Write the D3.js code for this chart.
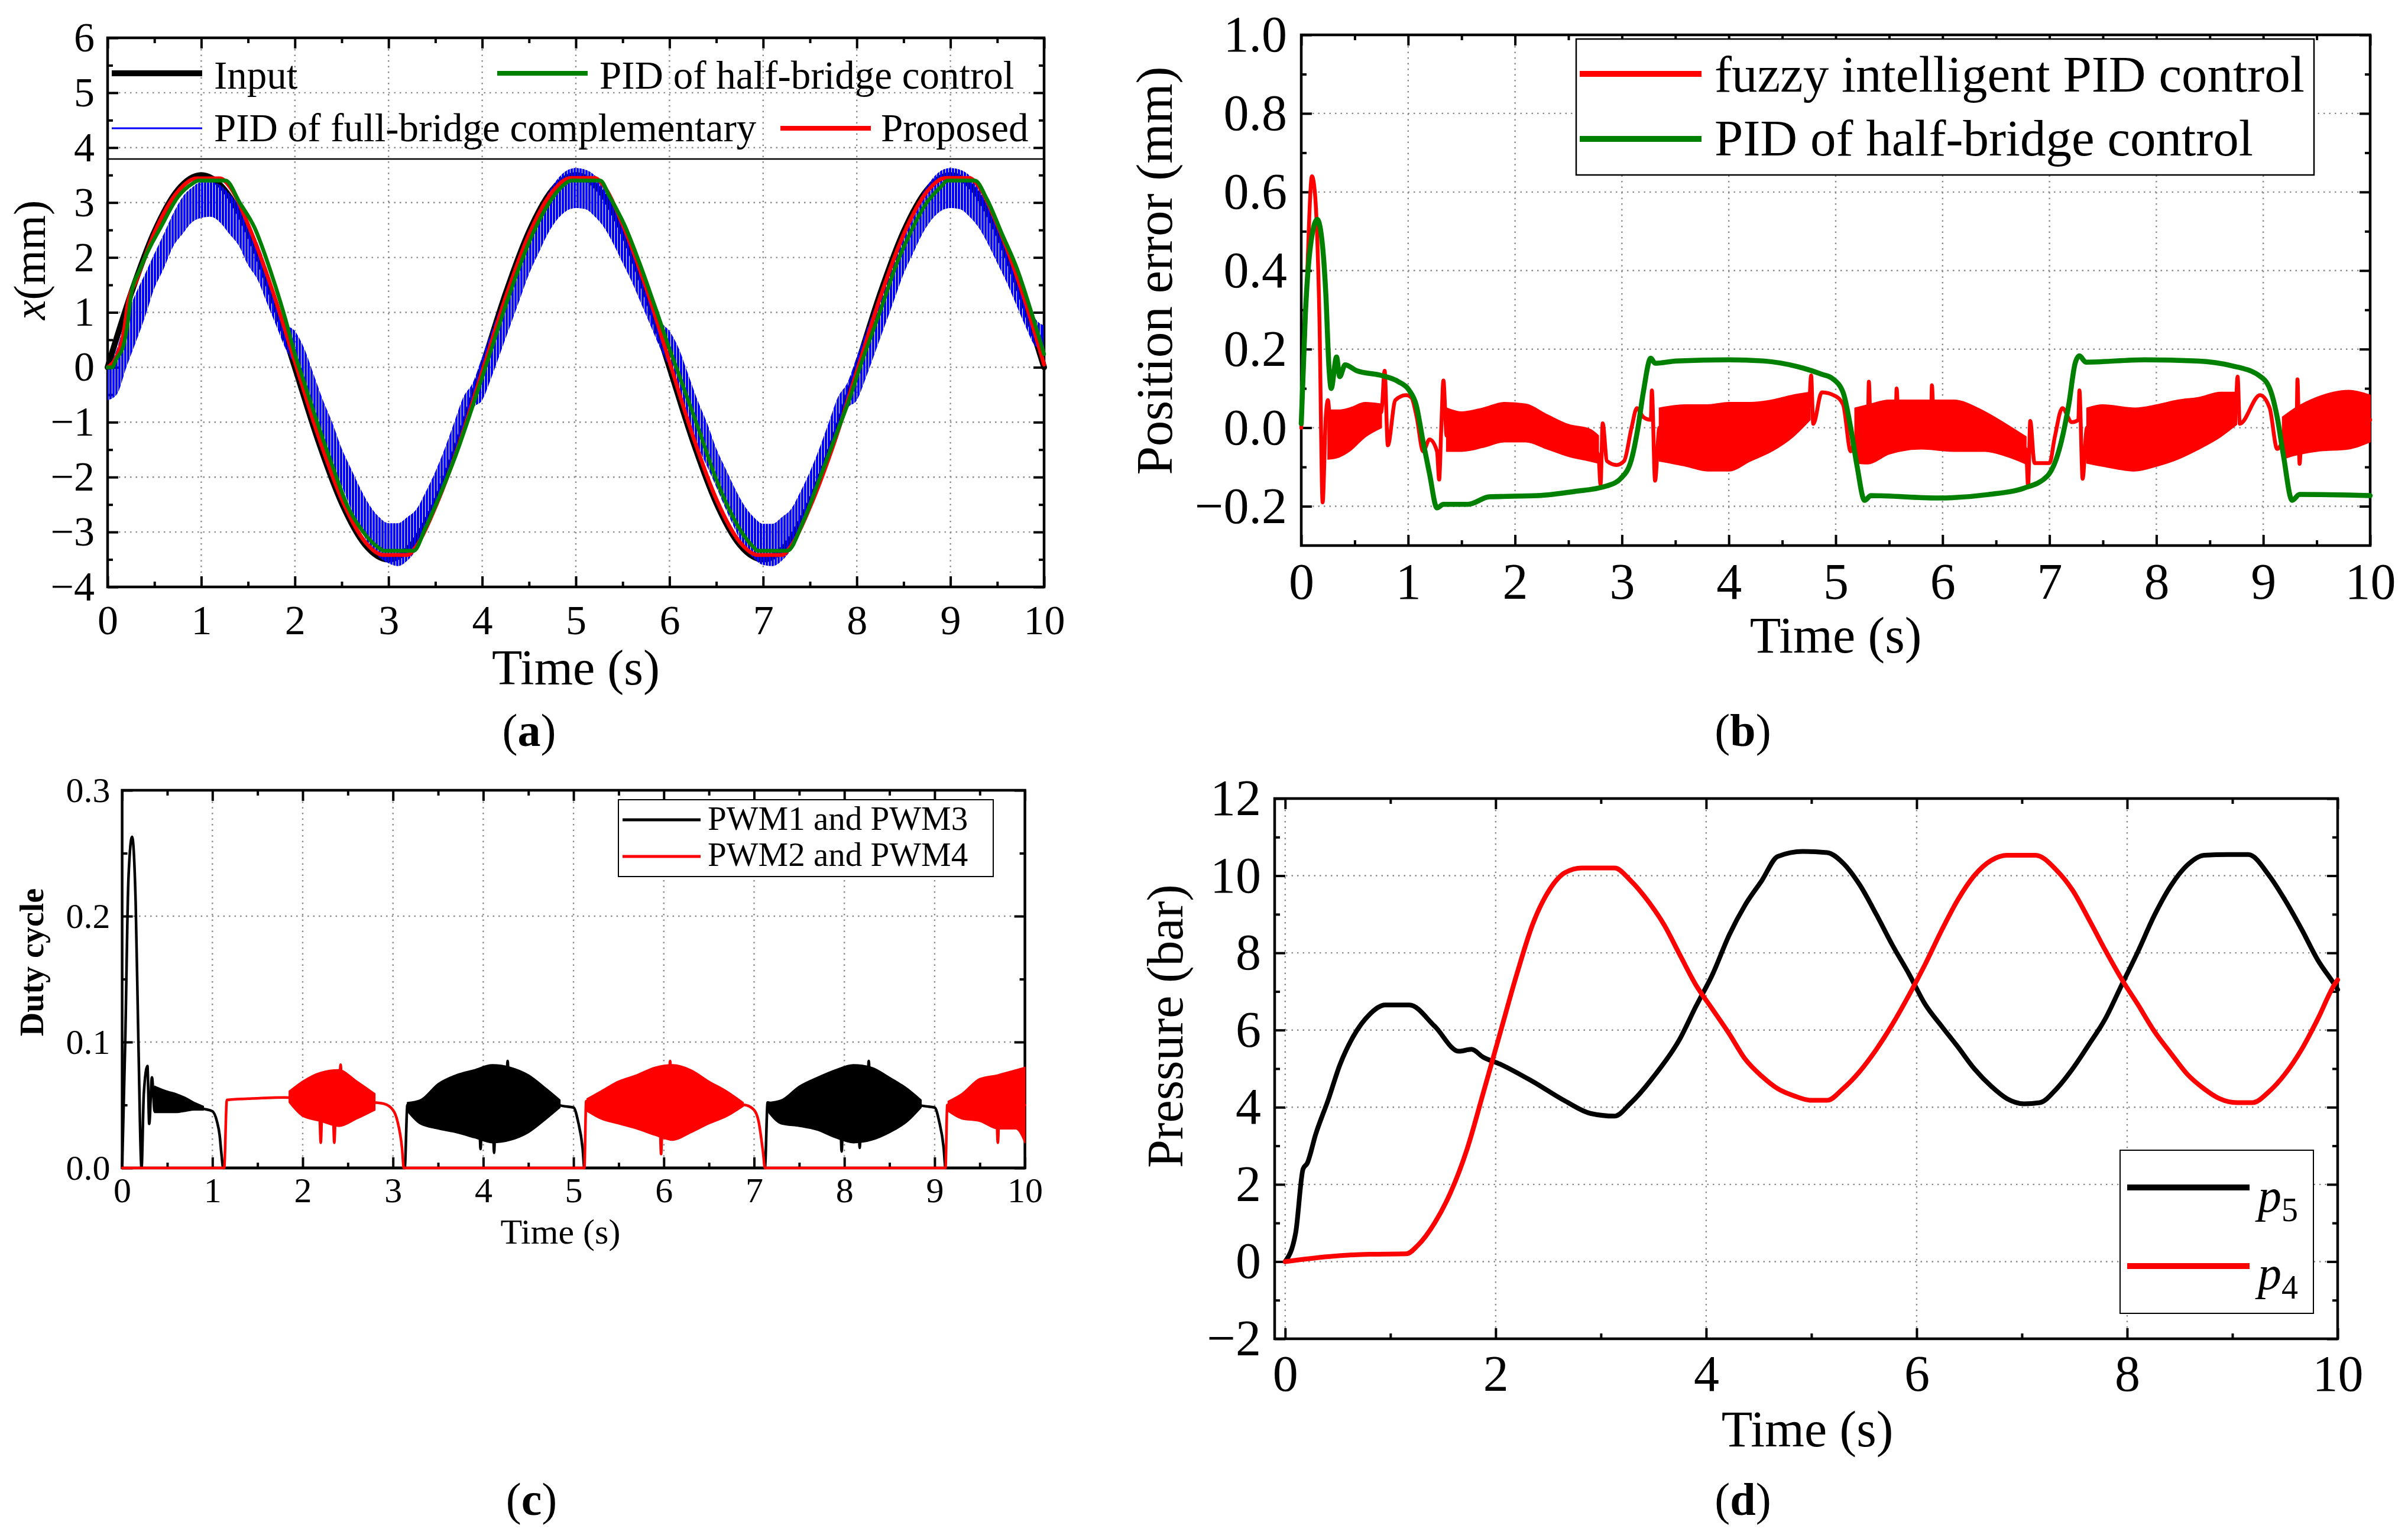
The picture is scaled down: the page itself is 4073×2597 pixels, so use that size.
<!DOCTYPE html>
<html><head><meta charset="utf-8">
<script src="https://cdn.jsdelivr.net/npm/d3@7"></script>
<style>html,body{margin:0;padding:0;background:#fff}svg{display:block}</style>
</head><body>
<svg id="c" width="4073" height="2597"></svg>
<script>
// ---------------- DATA ----------------
// (a) position tracking, x (mm) vs time (s)
const aInputT = [0,0.25,0.5,0.75,1,1.25,1.5,1.75,2,2.25,2.5,2.75,3,3.25,3.5,3.75,4,4.25,4.5,4.75,5,5.25,5.5,5.75,6,6.25,6.5,6.75,7,7.25,7.5,7.75,8,8.25,8.5,8.75,9,9.25,9.5,9.75,10];
const aInputX = [0,1.34,2.47,3.23,3.5,3.23,2.47,1.34,0,-1.34,-2.47,-3.23,-3.5,-3.23,-2.47,-1.34,0,1.34,2.47,3.23,3.5,3.23,2.47,1.34,0,-1.34,-2.47,-3.23,-3.5,-3.23,-2.47,-1.34,0,1.34,2.47,3.23,3.5,3.23,2.47,1.34,0];
const aProposed = [[0,0],[0.1,0.22],[0.17,0.62],[0.22,1.2],[0.3,1.55],[0.5,2.45],[0.75,3.2],[0.95,3.44],[1.2,3.44],[1.3,3.3],[1.5,2.6],[1.75,1.45],[2,0.1],[2.25,-1.25],[2.5,-2.4],[2.75,-3.18],[2.95,-3.42],[3.2,-3.42],[3.3,-3.25],[3.5,-2.55],[3.75,-1.42],[4,-0.08],[4.25,1.27],[4.5,2.42],[4.75,3.2],[4.95,3.45],[5.2,3.45],[5.3,3.3],[5.5,2.6],[5.75,1.45],[6,0.1],[6.25,-1.25],[6.5,-2.4],[6.75,-3.18],[6.95,-3.42],[7.2,-3.42],[7.3,-3.25],[7.5,-2.55],[7.75,-1.42],[8,-0.08],[8.25,1.27],[8.5,2.42],[8.75,3.2],[8.95,3.45],[9.2,3.45],[9.3,3.3],[9.5,2.6],[9.75,1.45],[10,0.05]];
const aHalfBridge = [[0,0],[0.05,0],[0.09,0.14],[0.17,0.4],[0.22,0.87],[0.25,1.3],[0.35,1.8],[0.58,2.59],[0.75,3.1],[0.91,3.35],[0.97,3.4],[1.26,3.4],[1.41,3.0],[1.57,2.54],[1.74,1.75],[1.9,0.87],[2.0,0.24],[2.1,-0.28],[2.23,-0.96],[2.4,-1.79],[2.56,-2.52],[2.73,-3.0],[2.89,-3.28],[2.95,-3.34],[3.27,-3.34],[3.39,-2.94],[3.55,-2.32],[3.72,-1.59],[3.88,-0.8],[4.0,-0.18],[4.08,0.24],[4.21,0.92],[4.38,1.75],[4.54,2.43],[4.71,2.98],[4.87,3.32],[4.95,3.4],[5.26,3.4],[5.36,3.11],[5.52,2.59],[5.68,1.9],[5.84,1.13],[6.0,0.34],[6.1,-0.13],[6.33,-1.22],[6.49,-2.0],[6.65,-2.63],[6.81,-3.1],[6.9,-3.28],[6.94,-3.34],[7.26,-3.34],[7.42,-2.84],[7.61,-2.0],[7.77,-1.27],[7.94,-0.49],[8.03,-0.02],[8.26,1.07],[8.42,1.86],[8.58,2.48],[8.74,2.98],[8.9,3.29],[8.97,3.4],[9.26,3.4],[9.39,3.06],[9.55,2.43],[9.71,1.8],[9.87,0.97],[10,0.24]];
// full-bridge PID: oscillating band, upper / lower envelope every 0.1 s
const aFullHi = [-0.05,0.34,0.92,1.34,1.7,2.07,2.43,2.8,3.1,3.27,3.37,3.37,3.32,3.16,2.95,2.64,2.27,1.8,1.28,0.81,0.66,0.34,-0.13,-0.6,-1.01,-1.48,-1.85,-2.21,-2.52,-2.73,-2.84,-2.84,-2.73,-2.58,-2.26,-1.9,-1.48,-1.01,-0.54,-0.28,0.19,0.66,1.13,1.6,2.01,2.43,2.79,3.16,3.42,3.58,3.63,3.6,3.5,3.3,3.0,2.64,2.27,1.8,1.3,0.85,0.66,0.34,-0.13,-0.6,-1.01,-1.48,-1.85,-2.21,-2.52,-2.73,-2.85,-2.85,-2.73,-2.58,-2.26,-1.9,-1.48,-1.01,-0.54,-0.28,0.19,0.66,1.13,1.6,2.01,2.43,2.79,3.16,3.42,3.58,3.63,3.6,3.5,3.3,3.0,2.64,2.27,1.8,1.3,0.9,0.76];
const aFullLo = [-0.6,-0.49,0.0,0.45,0.92,1.44,1.8,2.2,2.43,2.64,2.72,2.74,2.64,2.43,2.22,1.86,1.6,1.18,0.76,0.34,0.03,-0.39,-1.01,-1.43,-1.79,-2.16,-2.58,-2.94,-3.26,-3.46,-3.57,-3.62,-3.52,-3.31,-2.94,-2.58,-2.16,-1.74,-1.22,-0.75,-0.6,-0.18,0.29,0.76,1.23,1.7,2.07,2.43,2.69,2.85,2.9,2.88,2.75,2.55,2.25,1.9,1.55,1.15,0.75,0.35,0.0,-0.4,-1.0,-1.43,-1.8,-2.18,-2.58,-2.95,-3.28,-3.48,-3.6,-3.62,-3.52,-3.31,-2.94,-2.58,-2.16,-1.74,-1.22,-0.75,-0.6,-0.18,0.29,0.76,1.23,1.7,2.07,2.43,2.69,2.85,2.9,2.88,2.75,2.55,2.25,1.9,1.55,1.15,0.75,0.4,0.3];
const aLegendNames = ["Input","PID of half-bridge control","PID of full-bridge complementary","Proposed"];

// (b) position error (mm)
const bFuzzyLine = [[0,0],[0.05,0.35],[0.1,0.64],[0.13,0.59],[0.17,0.28],[0.2,-0.19],[0.23,0.03],[0.25,0.07],[0.28,-0.03],[0.4,0.0],[0.6,0.02],[0.75,0.04],[0.78,0.145],[0.81,-0.045],[0.88,0.07],[0.98,0.083],[1.03,0.077],[1.08,0.027],[1.14,-0.06],[1.2,-0.03],[1.27,-0.06],[1.29,-0.132],[1.31,0.0],[1.33,0.12],[1.36,-0.02],[1.5,-0.01],[2.0,0.015],[2.3,-0.01],[2.5,-0.03],[2.7,-0.045],[2.78,-0.07],[2.8,-0.145],[2.82,0.011],[2.86,-0.085],[2.95,-0.095],[3.02,-0.085],[3.09,0.0],[3.14,0.05],[3.2,0.027],[3.27,0.02],[3.28,0.095],[3.31,-0.135],[3.35,0.0],[3.6,-0.02],[4.0,-0.02],[4.4,0.005],[4.6,0.03],[4.75,0.055],[4.77,0.133],[4.79,0.01],[4.87,0.09],[5.0,0.08],[5.07,0.058],[5.14,-0.06],[5.2,-0.02],[5.3,-0.02],[5.31,0.117],[5.33,-0.02],[5.56,0.0],[5.57,0.1],[5.59,0.0],[5.89,0.0],[5.9,0.108],[5.92,0.0],[6.4,-0.01],[6.6,-0.03],[6.78,-0.055],[6.8,-0.148],[6.82,0.017],[6.86,-0.09],[7.0,-0.09],[7.05,-0.023],[7.12,0.05],[7.21,0.014],[7.27,0.02],[7.28,0.095],[7.31,-0.13],[7.35,0.0],[7.8,-0.03],[8.2,-0.005],[8.6,0.035],[8.74,0.05],[8.76,0.13],[8.78,0.01],[8.97,0.083],[9.06,0.05],[9.13,-0.054],[9.2,-0.03],[9.31,-0.02],[9.32,0.123],[9.34,-0.092],[9.36,0.0],[9.6,0.01],[10,0.02]];
const bFuzzyBand = [[0.25,-0.08,0.045],[0.35,-0.075,0.045],[0.45,-0.06,0.05],[0.6,-0.023,0.064],[0.75,0.0,0.06],null,
  [1.36,-0.06,0.05],[1.5,-0.06,0.04],[1.7,-0.05,0.05],[1.9,-0.036,0.064],[2.1,-0.036,0.06],[2.3,-0.054,0.033],[2.5,-0.073,0.008],[2.7,-0.085,-0.004],[2.78,-0.09,-0.02],null,
  [3.35,-0.085,0.05],[3.6,-0.098,0.058],[3.8,-0.11,0.058],[4.0,-0.11,0.064],[4.2,-0.085,0.064],[4.4,-0.06,0.07],[4.6,-0.023,0.083],[4.76,0.02,0.09],null,
  [5.18,-0.09,0.05],[5.3,-0.092,0.058],[5.5,-0.067,0.07],[5.8,-0.054,0.07],[6.1,-0.06,0.07],[6.4,-0.06,0.04],[6.6,-0.073,0.008],[6.78,-0.092,-0.023],null,
  [7.35,-0.09,0.05],[7.5,-0.098,0.058],[7.8,-0.11,0.05],[8.0,-0.098,0.058],[8.2,-0.08,0.07],[8.4,-0.054,0.077],[8.6,-0.023,0.09],[8.75,0.008,0.09],null,
  [9.18,-0.08,0.027],[9.3,-0.07,0.05],[9.5,-0.06,0.077],[9.8,-0.054,0.095],[10,-0.036,0.083]];
const bHalfBridge = [[0,0.01],[0.037,0.28],[0.085,0.46],[0.15,0.53],[0.2,0.46],[0.23,0.34],[0.26,0.15],[0.28,0.1],[0.33,0.18],[0.36,0.13],[0.41,0.16],[0.52,0.145],[0.75,0.133],[0.91,0.117],[1.01,0.095],[1.075,0.058],[1.14,-0.036],[1.2,-0.117],[1.27,-0.204],[1.33,-0.195],[1.56,-0.195],[1.76,-0.176],[2.21,-0.173],[2.54,-0.163],[2.86,-0.148],[2.99,-0.129],[3.09,-0.08],[3.15,0.0],[3.2,0.09],[3.27,0.177],[3.31,0.164],[3.51,0.17],[4.0,0.173],[4.32,0.17],[4.65,0.155],[4.87,0.136],[4.97,0.125],[5.07,0.089],[5.14,0.0],[5.2,-0.098],[5.27,-0.185],[5.33,-0.173],[5.95,-0.179],[6.43,-0.17],[6.76,-0.154],[6.98,-0.123],[7.11,-0.036],[7.18,0.058],[7.24,0.164],[7.28,0.183],[7.34,0.167],[7.89,0.173],[8.38,0.17],[8.7,0.158],[8.96,0.133],[9.06,0.1],[9.13,0.027],[9.19,-0.073],[9.27,-0.185],[9.34,-0.17],[10,-0.173]];
const bLegendNames = ["fuzzy intelligent PID control","PID of half-bridge control"];

// (c) duty cycle
const cPwm13Line = [[0,0],[0.034,0.1],[0.07,0.23],[0.11,0.263],[0.15,0.21],[0.18,0.1],[0.215,0],[0.24,0.059],[0.28,0.081],[0.3,0.035],[0.33,0.072],[0.36,0.045],[0.4,0.056],[0.5,0.053],[0.6,0.052],[0.7,0.05],[0.8,0.049],[0.9,0.047],[1.0,0.045],[1.05,0.037],[1.08,0.026],[1.1,0.011],[1.12,0],[3.13,0],[3.16,0.05],[3.3,0.046],[3.5,0.049],[3.7,0.051],[3.95,0.052],[3.97,0.015],[3.99,0.052],[4.1,0.053],[4.12,0.012],[4.14,0.053],[4.25,0.052],[4.27,0.085],[4.29,0.052],[4.5,0.051],[4.7,0.051],[4.9,0.049],[5.0,0.048],[5.05,0.037],[5.1,0.016],[5.12,0],[7.12,0],[7.15,0.052],[7.3,0.047],[7.5,0.049],[7.7,0.051],[7.95,0.052],[7.97,0.013],[7.99,0.052],[8.15,0.053],[8.17,0.016],[8.19,0.053],[8.25,0.053],[8.27,0.085],[8.29,0.053],[8.4,0.052],[8.6,0.051],[8.8,0.05],[8.9,0.049],[9.0,0.048],[9.05,0.037],[9.1,0.016],[9.12,0],[10,0]];
const cPwm13Band = [[0.36,0.044,0.065],[0.5,0.044,0.061],[0.6,0.044,0.059],[0.7,0.045,0.056],[0.8,0.046,0.052],[0.9,0.046,0.049],null,
  [3.16,0.045,0.052],[3.3,0.035,0.054],[3.5,0.031,0.067],[3.7,0.028,0.074],[3.9,0.024,0.078],[4.1,0.02,0.082],[4.3,0.022,0.08],[4.5,0.028,0.074],[4.7,0.039,0.063],[4.85,0.048,0.054],null,
  [7.15,0.045,0.052],[7.3,0.035,0.054],[7.5,0.033,0.065],[7.7,0.03,0.072],[7.9,0.024,0.078],[8.1,0.02,0.082],[8.3,0.022,0.08],[8.5,0.028,0.072],[8.7,0.037,0.063],[8.85,0.048,0.054]];
const cPwm24Line = [[0,0],[1.13,0],[1.16,0.054],[1.4,0.055],[1.8,0.056],[2.0,0.055],[2.18,0.055],[2.2,0.02],[2.22,0.055],[2.33,0.055],[2.35,0.02],[2.37,0.055],[2.4,0.056],[2.42,0.082],[2.44,0.055],[2.6,0.054],[2.8,0.052],[2.9,0.051],[3.0,0.046],[3.05,0.037],[3.1,0.016],[3.12,0],[5.12,0],[5.14,0.053],[5.3,0.05],[5.5,0.052],[5.7,0.053],[5.95,0.053],[5.97,0.011],[5.99,0.053],[6.05,0.053],[6.07,0.085],[6.09,0.053],[6.3,0.053],[6.5,0.052],[6.7,0.051],[6.9,0.05],[7.0,0.046],[7.05,0.037],[7.1,0.012],[7.12,0],[9.12,0],[9.14,0.05],[9.3,0.049],[9.5,0.053],[9.68,0.053],[9.7,0.02],[9.72,0.053],[9.9,0.055],[10,0.05]];
const cPwm24Band = [[1.85,0.052,0.061],[2.0,0.041,0.069],[2.2,0.037,0.076],[2.4,0.033,0.078],[2.6,0.039,0.069],[2.8,0.046,0.059],null,
  [5.15,0.045,0.055],[5.3,0.039,0.061],[5.5,0.035,0.069],[5.7,0.031,0.074],[5.9,0.026,0.08],[6.1,0.022,0.082],[6.3,0.028,0.078],[6.5,0.035,0.069],[6.7,0.041,0.061],[6.88,0.049,0.052],null,
  [9.15,0.045,0.053],[9.3,0.039,0.059],[9.5,0.037,0.071],[9.7,0.031,0.074],[9.9,0.031,0.078],[10,0.02,0.08]];
const cLegendNames = ["PWM1 and PWM3","PWM2 and PWM4"];

// (d) pressure (bar)
const dP5 = [[0,0],[0.1,0.75],[0.17,2.4],[0.21,2.55],[0.29,3.3],[0.41,4.2],[0.52,5.1],[0.64,5.8],[0.8,6.4],[0.95,6.65],[1.18,6.65],[1.42,6.1],[1.65,5.45],[1.77,5.5],[1.88,5.3],[2.04,5.12],[2.35,4.67],[2.66,4.16],[2.9,3.84],[3.13,3.77],[3.28,4.1],[3.52,4.86],[3.75,5.77],[3.9,6.6],[4.06,7.44],[4.22,8.47],[4.37,9.24],[4.53,9.88],[4.68,10.5],[4.92,10.63],[5.15,10.6],[5.3,10.33],[5.46,9.76],[5.62,8.98],[5.77,8.2],[5.93,7.44],[6.08,6.67],[6.24,6.09],[6.39,5.57],[6.55,4.99],[6.71,4.54],[6.86,4.22],[7.02,4.09],[7.17,4.12],[7.33,4.48],[7.48,4.99],[7.64,5.64],[7.79,6.28],[7.95,7.18],[8.1,8.02],[8.26,8.98],[8.42,9.76],[8.57,10.27],[8.73,10.53],[8.96,10.55],[9.15,10.55],[9.35,10.0],[9.5,9.37],[9.66,8.6],[9.81,7.82],[9.97,7.18],[10,7.05]];
const dP4 = [[0,0],[0.41,0.13],[0.8,0.19],[1.15,0.2],[1.26,0.42],[1.42,1.0],[1.57,1.78],[1.73,2.93],[1.88,4.35],[2.04,5.9],[2.2,7.44],[2.35,8.73],[2.51,9.63],[2.66,10.08],[2.82,10.2],[3.13,10.2],[3.28,9.88],[3.44,9.37],[3.6,8.73],[3.75,7.95],[3.9,7.18],[4.06,6.54],[4.22,5.9],[4.37,5.25],[4.53,4.8],[4.68,4.48],[4.84,4.29],[5.0,4.18],[5.15,4.18],[5.3,4.48],[5.46,4.93],[5.62,5.51],[5.77,6.15],[5.93,6.92],[6.08,7.7],[6.24,8.6],[6.39,9.37],[6.55,10.01],[6.71,10.4],[6.86,10.53],[7.13,10.53],[7.33,10.14],[7.48,9.63],[7.64,8.85],[7.79,8.08],[7.95,7.31],[8.1,6.67],[8.26,5.96],[8.42,5.38],[8.57,4.86],[8.73,4.48],[8.88,4.22],[9.04,4.12],[9.19,4.12],[9.35,4.41],[9.5,4.86],[9.66,5.51],[9.81,6.28],[9.97,7.18],[10,7.3]];
const dLegendSubs = ["5","4"];

// tick values
const xTicks1 = [0,1,2,3,4,5,6,7,8,9,10];
const xMinor1 = [0.5,1.5,2.5,3.5,4.5,5.5,6.5,7.5,8.5,9.5];
const aYTicks = [-4,-3,-2,-1,0,1,2,3,4,5,6];
const aYMinor = [-3.5,-2.5,-1.5,-0.5,0.5,1.5,2.5,3.5,4.5,5.5];
const bYTicks = [-0.2,0,0.2,0.4,0.6,0.8,1.0];
const bYMinor = [-0.1,0.1,0.3,0.5,0.7,0.9];
const cYTicks = [0,0.1,0.2,0.3];
const cYMinor = [0.05,0.15,0.25];
const dXTicks = [0,2,4,6,8,10];
const dXMinor = [1,3,5,7,9];
const dYTicks = [-2,0,2,4,6,8,10,12];
const dYMinor = [-1,1,3,5,7,9,11];

// ---------------- DRAWING ----------------
const FONT = "'Liberation Serif','Times New Roman',Times,serif";
const svg = d3.select('#c');
svg.append('rect').attr('width',4073).attr('height',2597).attr('fill','#fff');
const defs = svg.append('defs');
function hatch(id, color, period, w){
  const p = defs.append('pattern').attr('id',id).attr('patternUnits','userSpaceOnUse')
    .attr('width',period).attr('height',20);
  p.append('rect').attr('x',0).attr('y',0).attr('width',w).attr('height',20).attr('fill',color);
}
hatch('hBlue','#0000ff',5,4);

const MAJ = 18, MIN = 9;
function panel(o){
  const x = d3.scaleLinear().domain(o.xd).range([o.l,o.r]);
  const y = d3.scaleLinear().domain(o.yd).range([o.b,o.t]);
  const g = svg.append('g');
  const grid = g.append('g').attr('stroke','#8a8a8a').attr('stroke-width',2.4).attr('stroke-dasharray','2.5 7');
  o.xGrid.forEach(v => grid.append('line').attr('x1',x(v)).attr('x2',x(v)).attr('y1',o.t).attr('y2',o.b));
  o.yGrid.forEach(v => grid.append('line').attr('x1',o.l).attr('x2',o.r).attr('y1',y(v)).attr('y2',y(v)));
  const axes = [
    [d3.axisBottom(x).tickValues(o.xMaj).tickSize(-MAJ).tickPadding(o.xPad).tickFormat(o.xFmt), `translate(0,${o.b})`],
    [d3.axisBottom(x).tickValues(o.xMin).tickSize(-MIN).tickFormat(''), `translate(0,${o.b})`],
    [d3.axisTop(x).tickValues(o.xMaj).tickSize(-MAJ).tickFormat(''), `translate(0,${o.t})`],
    [d3.axisTop(x).tickValues(o.xMin).tickSize(-MIN).tickFormat(''), `translate(0,${o.t})`],
    [d3.axisLeft(y).tickValues(o.yMaj).tickSize(-MAJ).tickPadding(o.yPad).tickFormat(o.yFmt), `translate(${o.l},0)`],
    [d3.axisLeft(y).tickValues(o.yMin).tickSize(-MIN).tickFormat(''), `translate(${o.l},0)`],
    [d3.axisRight(y).tickValues(o.yMaj).tickSize(-MAJ).tickFormat(''), `translate(${o.r},0)`],
    [d3.axisRight(y).tickValues(o.yMin).tickSize(-MIN).tickFormat(''), `translate(${o.r},0)`]
  ];
  axes.forEach(([ax,tr]) => {
    const a = g.append('g').attr('transform',tr).call(ax);
    a.select('.domain').remove();
    a.attr('font-family',FONT).attr('font-size',o.fs);
    a.selectAll('line').attr('stroke','#000').attr('stroke-width',4);
    a.selectAll('text').attr('fill','#000');
  });
  g.append('rect').attr('x',o.l).attr('y',o.t).attr('width',o.r-o.l).attr('height',o.b-o.t)
    .attr('fill','none').attr('stroke','#000').attr('stroke-width',4.5);
  const data = g.append('g');
  const line = d3.line().x(d=>x(d[0])).y(d=>y(d[1])).curve(d3.curveMonotoneX);
  const area = d3.area().defined(d=>d!==null).x(d=>x(d[0])).y0(d=>y(d[1])).y1(d=>y(d[2])).curve(d3.curveMonotoneX);
  return {x,y,g,data,line,area};
}
function addLine(P, pts, color, w){
  P.data.append('path').attr('d',P.line(pts)).attr('fill','none').attr('stroke',color)
    .attr('stroke-width',w).attr('stroke-linejoin','round').attr('stroke-linecap','round');
}
function addBand(P, pts, fill, edge){
  const p = P.data.append('path').attr('d',P.area(pts)).attr('fill',fill);
  if(edge) p.attr('stroke',edge).attr('stroke-width',2).attr('stroke-linejoin','round');
  else p.attr('stroke','none');
}
function txt(x,y,s,size,opts={}){
  const t = svg.append('text').attr('x',x).attr('y',y).attr('font-family',FONT).attr('font-size',size)
    .attr('fill','#000').attr('text-anchor',opts.anchor||'start');
  if(opts.weight) t.attr('font-weight',opts.weight);
  if(opts.rotate) t.attr('x',0).attr('y',0).attr('transform',`translate(${x},${y}) rotate(-90)`);
  if(s!==null) t.text(s);
  return t;
}
function legendBox(x,y,w,h,fill,sw){
  svg.append('rect').attr('x',x).attr('y',y).attr('width',w).attr('height',h)
    .attr('fill',fill).attr('stroke','#000').attr('stroke-width',sw);
}
function legendLine(x1,x2,y,color,w){
  svg.append('line').attr('x1',x1).attr('x2',x2).attr('y1',y).attr('y2',y)
    .attr('stroke',color).attr('stroke-width',w);
}
function panelLabel(x,y,letter){
  const t = txt(x,y,null,78,{anchor:'middle'});
  t.append('tspan').text('(');
  t.append('tspan').attr('font-weight','bold').text(letter);
  t.append('tspan').text(')');
}
const fInt = d3.format('d'), f1 = d3.format('.1f');

// ----- (a) -----
const A = panel({l:182,r:1766,t:64,b:993,xd:[0,10],yd:[-4,6],xMaj:xTicks1,xMin:xMinor1,yMaj:aYTicks,yMin:aYMinor,
  xGrid:[1,2,3,4,5,6,7,8,9],yGrid:[-3,-2,-1,0,1,2,3,4,5],fs:70,xPad:30,yPad:22,xFmt:fInt,yFmt:fInt});
addLine(A, d3.zip(aInputT,aInputX), '#000', 10);
const aFullT = d3.range(aFullHi.length).map(i=>i/10);
addBand(A, d3.zip(aFullT,aFullLo,aFullHi), 'url(#hBlue)');
addLine(A, aProposed, '#ff0000', 6.5);
addLine(A, aHalfBridge, '#008000', 6.5);
legendBox(182,64,1584,205,'none',2.5);
legendLine(189,342,124,'#000',10);  txt(362,150,aLegendNames[0],67);
legendLine(841,994,124,'#008000',8); txt(1014,150,aLegendNames[1],67);
legendLine(189,342,217,'#0000ff',3); txt(362,239,aLegendNames[2],67);
legendLine(1320,1473,217,'#ff0000',8); txt(1490,239,aLegendNames[3],67);
txt(974,1158,'Time (s)',84,{anchor:'middle'});
{ const t = txt(76,440,null,76,{anchor:'middle',rotate:true});
  t.append('tspan').attr('font-style','italic').text('x'); t.append('tspan').text('(mm)'); }
panelLabel(895,1262,'a');

// ----- (b) -----
const B = panel({l:2201,r:4009,t:59,b:923,xd:[0,10],yd:[-0.3,1.0],xMaj:xTicks1,xMin:xMinor1,yMaj:bYTicks,yMin:bYMinor,
  xGrid:[1,2,3,4,5,6,7,8,9],yGrid:[-0.2,0,0.2,0.4,0.6,0.8],fs:86,xPad:29,yPad:24,xFmt:fInt,yFmt:f1});
addBand(B, bFuzzyBand, '#ff0000', '#ff0000');
addLine(B, bFuzzyLine, '#ff0000', 6.5);
addLine(B, bHalfBridge, '#008000', 8.5);
legendBox(2666,66,1248,230,'#fff',2.5);
legendLine(2672,2878,125,'#ff0000',10); txt(2900,155,bLegendNames[0],87);
legendLine(2672,2878,235,'#008000',10); txt(2900,263,bLegendNames[1],87);
txt(3105,1104,'Time (s)',86,{anchor:'middle'});
txt(1982,458,'Position error (mm)',87,{anchor:'middle',rotate:true});
panelLabel(2948,1262,'b');

// ----- (c) -----
const C = panel({l:206.6,r:1733.6,t:1337,b:1976,xd:[0,10],yd:[0,0.3],xMaj:xTicks1,xMin:xMinor1,yMaj:cYTicks,yMin:cYMinor,
  xGrid:[1,2,3,4,5,6,7,8,9],yGrid:[0.1,0.2],fs:60,xPad:15,yPad:20,xFmt:fInt,yFmt:f1});
addBand(C, cPwm13Band, '#000', '#000');
addLine(C, cPwm13Line, '#000', 4.5);
addBand(C, cPwm24Band, '#ff0000', '#ff0000');
addLine(C, cPwm24Line, '#ff0000', 4.5);
legendBox(1046,1353,634,130,'#fff',2);
legendLine(1053,1185,1387,'#000',5);    txt(1197,1404,cLegendNames[0],57);
legendLine(1053,1185,1449,'#ff0000',5); txt(1197,1465,cLegendNames[1],57);
txt(948,2104,'Time (s)',60,{anchor:'middle'});
txt(73,1628,'Duty cycle',56,{anchor:'middle',rotate:true,weight:'bold'});
panelLabel(899,2563,'c');

// ----- (d) -----
const D = panel({l:2156,r:3954,t:1351,b:2265,xd:[-0.1,10],yd:[-2,12],xMaj:dXTicks,xMin:dXMinor,yMaj:dYTicks,yMin:dYMinor,
  xGrid:[0,2,4,6,8],yGrid:[0,2,4,6,8,10],fs:86,xPad:27,yPad:23,xFmt:fInt,yFmt:fInt});
addLine(D, dP5, '#000', 8);
addLine(D, dP4, '#ff0000', 8);
legendBox(3586,1946,327,276,'#fff',2);
legendLine(3598,3805,2009,'#000',10);
legendLine(3598,3805,2142,'#ff0000',10);
[[2050,dLegendSubs[0]],[2181,dLegendSubs[1]]].forEach(([by,s]) => {
  const t = txt(3819,by,null,80);
  t.append('tspan').attr('font-style','italic').text('p');
  t.append('tspan').attr('font-size',56).attr('dy',16).text(s);
});
txt(3057,2447,'Time (s)',86,{anchor:'middle'});
txt(2000,1736,'Pressure (bar)',86,{anchor:'middle',rotate:true});
panelLabel(2948,2563,'d');
</script></body></html>
